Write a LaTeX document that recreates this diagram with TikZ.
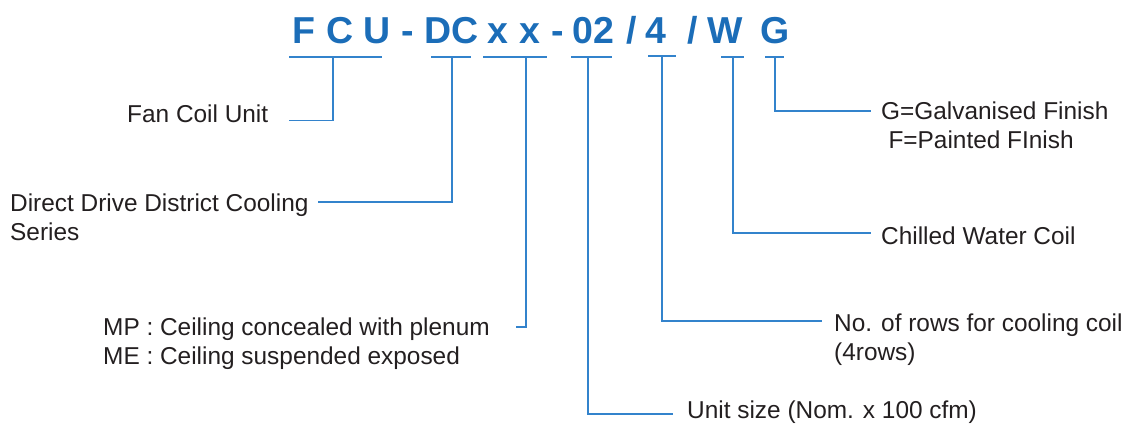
\documentclass[tikz,border=0pt]{standalone}
\usepackage{fontspec}
\setmainfont{Liberation Sans}
\definecolor{titleblue}{HTML}{1B6DB8}
\definecolor{lineblue}{HTML}{3383CC}
\definecolor{txt}{HTML}{231F20}
\begin{document}
\begin{tikzpicture}[x=1pt,y=-1pt,
  ttl/.style={anchor=base west,inner sep=0pt,text=titleblue,font=\fontsize{37.5}{40}\selectfont\bfseries},
  lbl/.style={anchor=base west,inner sep=0pt,text=txt,align=left,font=\fontsize{24.4}{29}\selectfont},
  ln/.style={draw=lineblue,line width=1.3pt}]
\useasboundingbox (0,0) rectangle (1126,425);
% title
\node[ttl] (t1) at (292,44) {F};
\node[ttl] (t2) at (326,44) {C};
\node[ttl] (t3) at (363,44) {U};
\node[ttl] (t4) at (401,44) {-};
\node[ttl] (t5) at (424,44) {DC};
\node[ttl] (t6) at (487,44) {x};
\node[ttl] (t7) at (519,44) {x};
\node[ttl] (t8) at (551,44) {-};
\node[ttl] (t9) at (572,44) {02};
\node[ttl] (t10) at (626,44) {/};
\node[ttl] (t11) at (645,44) {4};
\node[ttl] (t12) at (687,44) {/};
\node[ttl] (t13) at (707,44) {W};
\node[ttl] (t14) at (760,44) {G};
% labels (base = baseline of last line)
\node[lbl] (fan) at (127,122.5) {Fan Coil Unit};
\node[lbl] (ddc) at (10,240.5) {Direct Drive District Cooling\\Series};
\node[lbl] (mp) at (103,364.5) {MP : Ceiling concealed with plenum\\ME : Ceiling suspended exposed};
\node[lbl] (us) at (687,418.5) {Unit size (Nom. x 100 cfm)};
\node[lbl] (rows) at (834,360.5) {No. of rows for cooling coil\\(4rows)};
\node[lbl] (cwc) at (881,244.5) {Chilled Water Coil};
\node[lbl] (gf) at (881,148.5) {G=Galvanised Finish\\\hspace*{0.3em}F=Painted FInish};
% underline stems
\coordinate (s1) at (333,57);
\coordinate (s2) at (452,57);
\coordinate (s3) at (526,57);
\coordinate (s4) at (588,57);
\coordinate (s5) at (662,56);
\coordinate (s6) at (733,57);
\coordinate (s7) at (775,57);
% underlines
\draw[ln] (289,57) -- (382,57);
\draw[ln] (431,57) -- (471,57);
\draw[ln] (483,57) -- (547,57);
\draw[ln] (571,57) -- (612,57);
\draw[ln] (648,56) -- (676,56);
\draw[ln] (721,57) -- (744,57);
\draw[ln] (765,57) -- (784,57);
% line ends
\coordinate (e1) at (289,120.5);
\coordinate (e2) at (318,202);
\coordinate (e3) at (516,327);
\coordinate (e4) at (673,414);
\coordinate (e5) at (822,321);
\coordinate (e6) at (871,233);
\coordinate (e7) at (871,111);
% connectors
\draw[ln] (s1) |- (e1);
\draw[ln] (s2) |- (e2);
\draw[ln] (s3) |- (e3);
\draw[ln] (s4) |- (e4);
\draw[ln] (s5) |- (e5);
\draw[ln] (s6) |- (e6);
\draw[ln] (s7) |- (e7);
\end{tikzpicture}
\end{document}
